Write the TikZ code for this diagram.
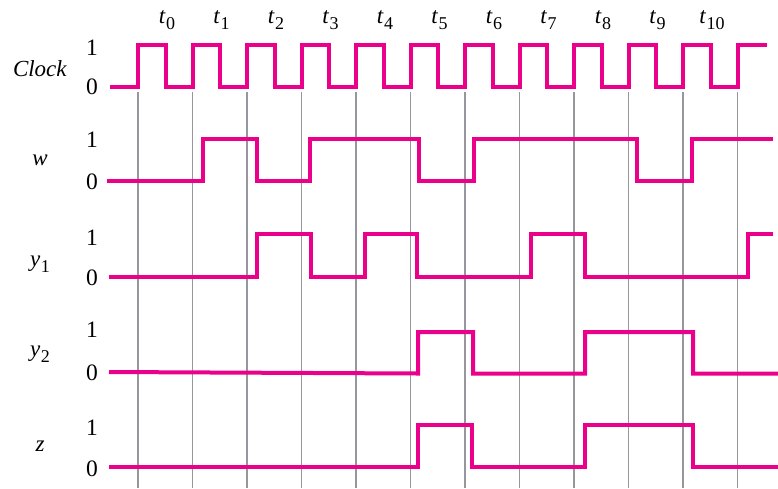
\documentclass[tikz,border=0pt]{standalone}
\usepackage{fontspec}
\setmainfont{Liberation Serif}
\definecolor{sigpink}{RGB}{234,0,139}
\definecolor{gridgray}{RGB}{150,150,156}
\newcommand\tlab[1]{\textit{t}\kern0.5pt\raisebox{-0.28em}{\fontsize{18}{20}\selectfont #1}}
\newcommand\ylab[1]{\textit{y}\kern0.5pt\raisebox{-0.28em}{\fontsize{18}{20}\selectfont #1}}
\begin{document}
\begin{tikzpicture}[x=1pt,y=-1pt,
  sig/.style={draw=sigpink,line width=4pt,line join=miter,line cap=butt},
  grid/.style={draw=gridgray,line width=1.5pt},
  lab/.style={font=\fontsize{23}{26}\selectfont,inner sep=0pt},
  lvl/.style={font=\fontsize{23.5}{26}\selectfont,inner sep=0pt}]
\useasboundingbox (0,0) rectangle (778,488);
\fill[white] (0,0) rectangle (778,488);
% grid lines
\foreach \k in {0,...,11}{
  \draw[grid] ({138+54.5*\k},92) -- ({138+54.5*\k},488);
}
% time labels
\foreach \k in {0,...,10}{
  \node[lab] (t\k) at ({167+54.5*\k},20) {\tlab{\k}};
}
% signal names
\node[lab] (nclk) at (40,69) {\textit{Clock}};
\node[lab] (nw) at (40,160) {\textit{w}};
\node[lab] (ny1) at (40,264) {\ylab{1}};
\node[lab] (ny2) at (40,354) {\ylab{2}};
\node[lab] (nz) at (40,446) {\textit{z}};
% level labels
\node[lvl] (c1) at (92,48) {1};
\node[lvl] (c0) at (92,87) {0};
\node[lvl] (w1) at (92,140) {1};
\node[lvl] (w0) at (92,182) {0};
\node[lvl] (a1) at (92,238) {1};
\node[lvl] (a0) at (92,278) {0};
\node[lvl] (b1) at (92,330) {1};
\node[lvl] (b0) at (92,373) {0};
\node[lvl] (z1) at (92,428) {1};
\node[lvl] (z0) at (92,469) {0};
% clock
\draw[sig] (110,87) foreach \k in {0,...,10} {
   -- ({138+54.5*\k},87) -- ({138+54.5*\k},45) -- ({165.5+54.5*\k},45) -- ({165.5+54.5*\k},87) }
   -- (737.5,87) -- (737.5,45) -- (767,45);
% w
\draw[sig] (107,181) -- (203,181) -- (203,139) -- (257,139) -- (257,181) -- (310,181) -- (310,139)
  -- (419,139) -- (419,181) -- (474,181) -- (474,139) -- (637,139) -- (637,181) -- (692,181)
  -- (692,139) -- (773,139);
% y1
\draw[sig] (109,277) -- (257,277) -- (257,234) -- (311,234) -- (311,277) -- (365,277) -- (365,234)
  -- (417,234) -- (417,277) -- (531,277) -- (531,234) -- (585,234) -- (585,277) -- (748,277)
  -- (748,234) -- (773,234);
% y2
\draw[sig] (109,372) -- (418,373.5) -- (418,332) -- (473,332) -- (473,373.5) -- (585,373.5) -- (585,332)
  -- (693,332) -- (693,373.5) -- (778,373.5);
% z
\draw[sig] (109,467) -- (418,467) -- (418,425) -- (472,425) -- (472,467) -- (585,467) -- (585,425)
  -- (693,425) -- (693,467) -- (778,467);
\end{tikzpicture}
\end{document}
